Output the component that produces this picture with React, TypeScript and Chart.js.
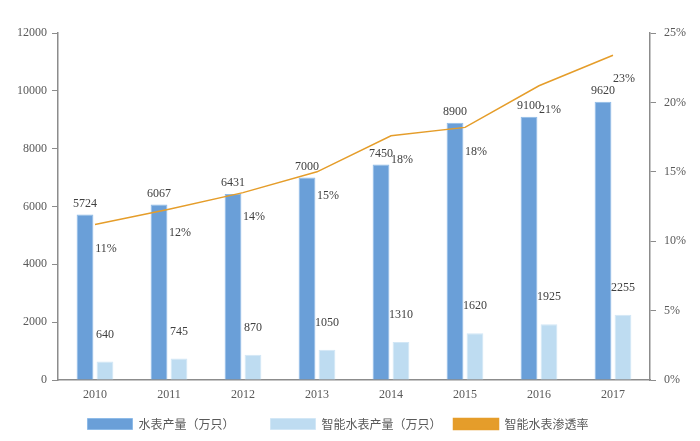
import { useEffect, useRef } from 'react';
import Chart from 'chart.js/auto';

const years = ['2010', '2011', '2012', '2013', '2014', '2015', '2016', '2017'];
const meterOutput = [5724, 6067, 6431, 7000, 7450, 8900, 9100, 9620];
const smartOutput = [640, 745, 870, 1050, 1310, 1620, 1925, 2255];
const penetration = [11.2, 12.3, 13.5, 15.0, 17.6, 18.2, 21.2, 23.4];
const penetrationLabels = ['11%', '12%', '14%', '15%', '18%', '18%', '21%', '23%'];
const seriesNames = ['水表产量（万只）', '智能水表产量（万只）', '智能水表渗透率'];

const numFont = '"Liberation Serif", "Times New Roman", serif';
const cjkFont = '"Noto Sans CJK SC", "Noto Sans", sans-serif';
const axisColor = '#8c8c8c';
const textColor = '#595959';

const valueLabels = {
  id: 'valueLabels',
  afterDatasetsDraw(chart: Chart) {
    const ctx = chart.ctx;
    ctx.save();
    ctx.font = '12px ' + numFont;
    ctx.fillStyle = '#404040';
    ctx.textAlign = 'center';
    ctx.textBaseline = 'middle';
    chart.data.datasets.forEach((ds, i) => {
      const meta = chart.getDatasetMeta(i);
      meta.data.forEach((el: any, j: number) => {
        if (i === 0) {
          ctx.fillText(String(ds.data[j]), el.x, el.y - 11);
        } else if (i === 1) {
          ctx.fillText(String(ds.data[j]), el.x, el.y - 27);
        } else {
          ctx.fillText(penetrationLabels[j], el.x + 11, el.y + 24);
        }
      });
    });
    ctx.restore();
  },
};

export default function App() {
  const chartRef = useRef<HTMLCanvasElement>(null);
  const chartInstance = useRef<Chart | null>(null);

  useEffect(() => {
    if (chartRef.current) {
      if (chartInstance.current) {
        chartInstance.current.destroy();
      }
      const ctx = chartRef.current.getContext('2d');
      if (ctx) {
        chartInstance.current = new Chart(ctx, {
          type: 'bar',
          data: {
            labels: years,
            datasets: [
              {
                // trailing blanks: uneven legend spacing like the original
                label: seriesNames[0] + '\u3000\u3000\u2002',
                data: meterOutput,
                backgroundColor: '#6a9fd8',
                borderColor: '#8ebbe8',
                borderWidth: 1,
                yAxisID: 'y',
                order: 2,
                categoryPercentage: 0.54,
                barPercentage: 0.84,
              },
              {
                label: seriesNames[1],
                data: smartOutput,
                backgroundColor: '#bedcf1',
                borderColor: '#d2e7f6',
                borderWidth: 1,
                yAxisID: 'y',
                order: 2,
                categoryPercentage: 0.54,
                barPercentage: 0.84,
              },
              {
                type: 'line',
                label: seriesNames[2] + '\u3000\u2002\u2002',
                data: penetration,
                borderColor: '#e59d2a',
                backgroundColor: '#e59d2a',
                borderWidth: 1.5,
                pointRadius: 0,
                tension: 0,
                yAxisID: 'y1',
                order: 1,
              } as any,
            ],
          },
          options: {
            responsive: false,
            animation: false,
            layout: { padding: { top: 33, left: 0, right: 0, bottom: 1 } },
            plugins: {
              legend: {
                position: 'bottom',
                labels: {
                  boxWidth: 45,
                  boxHeight: 11,
                  padding: 12,
                  color: textColor,
                  font: { family: cjkFont, size: 12 },
                  sort: (a: any, b: any) => a.datasetIndex - b.datasetIndex,
                },
              },
              tooltip: { enabled: false },
            },
            scales: {
              x: {
                grid: { display: false },
                border: { display: true, color: axisColor, width: 1.5 },
                ticks: { color: textColor, font: { family: numFont, size: 12 }, padding: 0 },
                afterFit: (scale: any) => { scale.height = 26; },
              },
              y: {
                position: 'left',
                min: 0,
                max: 12000,
                ticks: {
                  stepSize: 2000,
                  color: textColor,
                  font: { family: numFont, size: 12 },
                  padding: 5,
                  callback: (v: any) => String(v),
                },
                grid: { drawOnChartArea: false, drawTicks: true, tickLength: 6, color: axisColor },
                border: { color: axisColor, width: 1.5 },
                afterFit: (scale: any) => { scale.width = 58; },
              },
              y1: {
                position: 'right',
                min: 0,
                max: 25,
                ticks: {
                  stepSize: 5,
                  color: textColor,
                  font: { family: numFont, size: 12 },
                  padding: 8,
                  callback: (v: any) => v + '%',
                },
                grid: { drawOnChartArea: false, drawTicks: true, tickLength: 6, color: axisColor },
                border: { color: axisColor, width: 1.5 },
                afterFit: (scale: any) => { scale.width = 50; },
              },
            },
          },
          plugins: [valueLabels],
        });
      }
    }
    return () => {
      if (chartInstance.current) {
        chartInstance.current.destroy();
      }
    };
  }, []);

  return (
    <div style={{ position: 'fixed', left: 0, top: 0, width: 700, height: 441, background: '#fff' }}>
      <canvas ref={chartRef} width={700} height={441} />
    </div>
  );
}
